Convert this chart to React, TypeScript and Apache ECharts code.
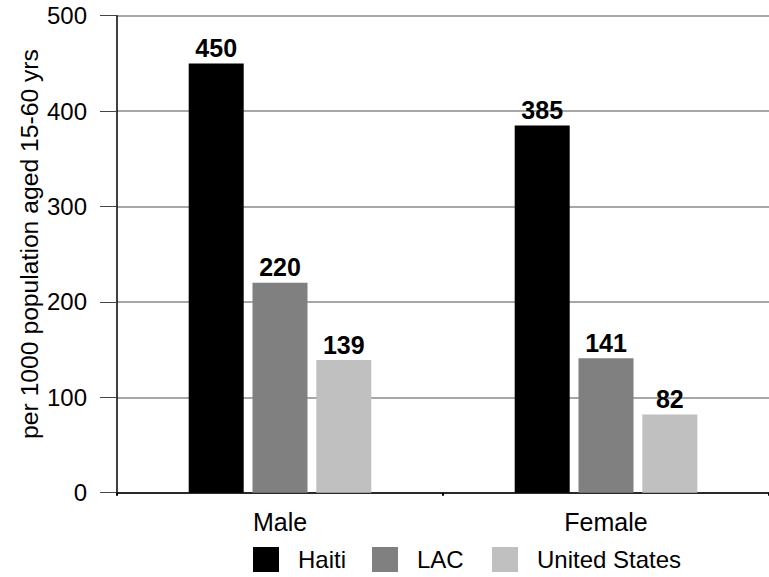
import React, { useEffect, useRef } from "react";
import * as echarts from "echarts";

const categories = ["Male", "Female"];
const haiti = [450, 385];
const lac = [220, 141];
const unitedStates = [139, 82];
const seriesNames = ["Haiti", "LAC", "United States"];
const yAxisTitle = "per 1000 population aged 15-60 yrs";

const FONT = "'Liberation Sans', Arial, sans-serif";

export default function App() {
  const ref = useRef<HTMLDivElement>(null);
  useEffect(() => {
    if (!ref.current) return;
    const chart = echarts.init(ref.current, null, { renderer: "svg" });
    const colors = ["#000000", "#808080", "#c0c0c0"];
    const values = [haiti, lac, unitedStates];
    const legendLefts = [248, 367, 487];
    chart.setOption({
      animation: false,
      backgroundColor: "#ffffff",
      textStyle: { fontFamily: FONT },
      grid: { left: 117, top: 15.7, width: 662, height: 477, containLabel: false },
      legend: seriesNames.map((n, i) => ({
        data: [n],
        left: legendLefts[i],
        top: 542,
        itemWidth: 26,
        itemHeight: 25,
        icon: "rect",
        selectedMode: false,
        textStyle: { fontSize: 24, color: "#000", fontFamily: FONT, padding: [0, 0, 0, 14] },
      })),
      xAxis: {
        type: "category",
        data: categories,
        axisLine: { show: true, lineStyle: { color: "#000", width: 1.5 } },
        axisTick: { show: true, length: 3, lineStyle: { color: "#000", width: 2 } },
        axisLabel: { fontSize: 25, color: "#000", margin: 17, fontFamily: FONT },
        splitLine: { show: false },
      },
      yAxis: {
        type: "value",
        min: 0,
        max: 500,
        interval: 100,
        axisLine: { show: true, lineStyle: { color: "#000", width: 1.5 } },
        axisTick: { show: true, inside: false, length: 17, lineStyle: { color: "#444", width: 1 } },
        axisLabel: { fontSize: 24, color: "#000", margin: 30, fontFamily: FONT },
        splitLine: { show: true, lineStyle: { color: "#8a8a8a", width: 1.5 } },
      },
      graphic: [
        {
          type: "text",
          x: 29,
          y: 244,
          rotation: Math.PI / 2,
          style: {
            text: yAxisTitle,
            fontSize: 24.7,
            fontFamily: FONT,
            fill: "#000",
            textAlign: "center",
            textVerticalAlign: "middle",
          },
        },
      ],
      series: seriesNames.map((name, i) => ({
        name,
        type: "bar",
        data: values[i],
        barWidth: 55,
        barGap: "16%",
        itemStyle: { color: colors[i] },
        label: {
          show: true,
          position: "top",
          distance: 3,
          fontSize: 25,
          fontWeight: "bold",
          color: "#000",
          fontFamily: FONT,
        },
      })),
    });
    return () => chart.dispose();
  }, []);
  return <div ref={ref} style={{ width: 769, height: 577, position: "absolute", left: 0, top: 0 }} />;
}
